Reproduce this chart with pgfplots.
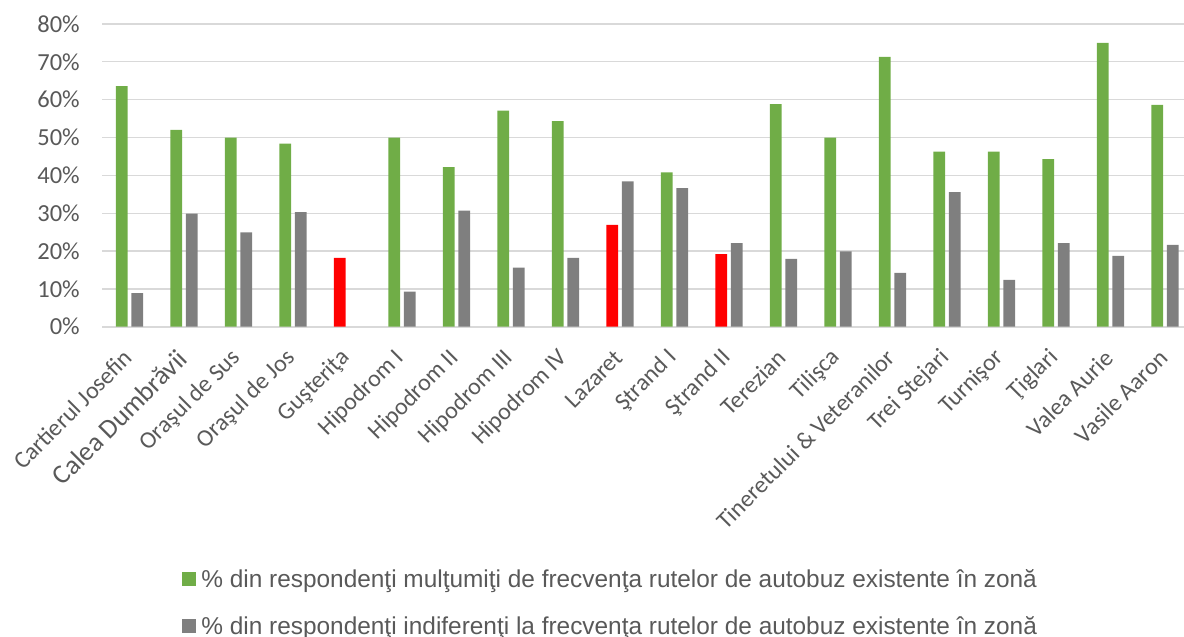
\documentclass[border=0pt]{standalone}
\usepackage{pgfplots}
\pgfplotsset{compat=1.18}
\usepackage{fontspec}
\setmainfont{Carlito}
\newfontfamily\legfont{Liberation Sans}
\definecolor{cgreen}{HTML}{70AD47}
\definecolor{cgray}{HTML}{7F7F7F}
\definecolor{cred}{HTML}{FF0000}
\definecolor{ctext}{HTML}{595959}
\definecolor{cgrid}{HTML}{D9D9D9}
\begin{document}
\begin{tikzpicture}
\begin{axis}[
  name=ax,
  at={(0pt,0pt)}, anchor=south west,
  scale only axis, width=1090pt, height=302.7pt,
  xmin=-0.5, xmax=19.5, ymin=0, ymax=80,
  ytick={0,10,20,30,40,50,60,70,80},
  yticklabels={0\%,10\%,20\%,30\%,40\%,50\%,60\%,70\%,80\%},
  xtick={0,...,19},
  xticklabels={Cartierul Josefin,{\fontsize{27}{27}\selectfont Calea Dumbrăvii},Oraşul de Sus,Oraşul de Jos,Guşteriţa,Hipodrom I,Hipodrom II,Hipodrom III,Hipodrom IV,Lazaret,Ştrand I,Ştrand II,Terezian,Tilişca,Tineretului \& Veteranilor,Trei Stejari,Turnişor,Ţiglari,Valea Aurie,Vasile Aaron},
  major tick length=0pt,
  ymajorgrids, major grid style={cgrid, line width=1.3pt},
  axis x line*=bottom, axis y line*=left,
  x axis line style={cgrid, line width=2.2pt, -},
  y axis line style={draw=none},
  yticklabel style={font=\fontsize{24.5}{24.5}\selectfont, text=ctext, xshift=-19pt},
  xticklabel style={font=\fontsize{24}{24}\selectfont, text=ctext, yshift=-25pt, xshift=1pt, rotate=45, anchor=east},
  legend style={at={(0.0729,-0.9118)}, anchor=west, draw=none, fill=none, inner sep=0pt, outer sep=0pt,
    font=\legfont\fontsize{24.4}{24.4}\selectfont, text=ctext, row sep=27pt,
    nodes={inner sep=0pt},
    /tikz/every odd column/.append style={column sep=5.7pt}},
  legend cell align=left,
  legend image code/.code={\path[#1] (0pt,-7pt) rectangle (14pt,7pt);},
]
\addplot[ybar, bar width=0.215, bar shift=-0.142, fill=cgreen, draw=none] coordinates {
 (0,63.6) (1,52.0) (2,50.0) (3,48.4) (5,50.0) (6,42.2) (7,57.1) (8,54.3) (10,40.8)
 (12,58.8) (13,50.0) (14,71.3) (15,46.3) (16,46.3) (17,44.3) (18,75.0) (19,58.6)};
\addlegendentry{\% din respondenţi mulţumiţi de frecvenţa rutelor de autobuz existente în zonă}
\addplot[ybar, bar width=0.215, bar shift=0.142, fill=cgray, draw=none] coordinates {
 (0,8.9) (1,29.9) (2,24.9) (3,30.3) (5,9.3) (6,30.7) (7,15.6) (8,18.2) (9,38.4)
 (10,36.6) (11,22.1) (12,17.9) (13,19.9) (14,14.2) (15,35.6) (16,12.4) (17,22.1) (18,18.7) (19,21.6)};
\addlegendentry{\% din respondenţi indiferenţi la frecvenţa rutelor de autobuz existente în zonă}
\addplot[ybar, bar width=0.215, bar shift=-0.142, fill=cred, draw=none, forget plot] coordinates {
 (4,18.2) (9,26.9) (11,19.2)};
\end{axis}
\pgfresetboundingbox
\path[use as bounding box] ([shift={(-102.25pt,-310.3pt)}]ax.south west) rectangle ([shift={(1081.75pt,326.7pt)}]ax.south west);
\end{tikzpicture}
\end{document}
